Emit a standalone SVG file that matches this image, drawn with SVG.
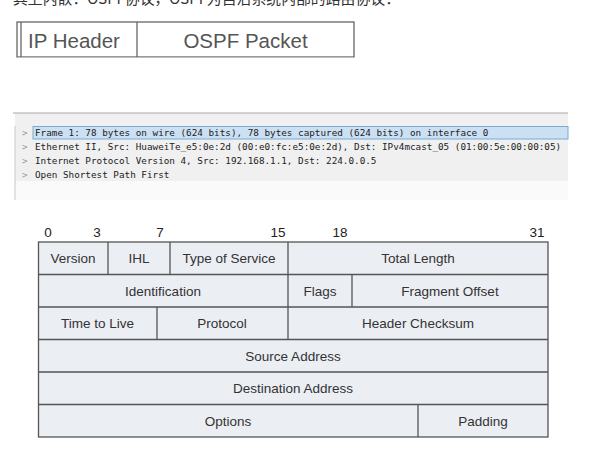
<svg xmlns="http://www.w3.org/2000/svg" width="605" height="457" viewBox="0 0 605 457">
<style>
.cn{font-family:"Noto Sans CJK SC","Liberation Sans",sans-serif;font-size:15px;fill:#333}
.big{font-family:"Liberation Sans",Arial,sans-serif;font-size:20.5px;fill:#555}
.mono{font-family:"DejaVu Sans Mono","Liberation Mono",monospace;font-size:9.3px;fill:#222}
.chev{font-family:"DejaVu Sans Mono","Liberation Mono",monospace;font-size:9.3px;fill:#999}
.lbl{font-family:"Liberation Sans",Arial,sans-serif;font-size:13.5px;fill:#333;text-anchor:middle}
.num{font-family:"Liberation Sans",Arial,sans-serif;font-size:13.5px;fill:#222;text-anchor:middle}
.cell{fill:#ebeef3;stroke:#555;stroke-width:1.3}
.div{stroke:#555;stroke-width:1.3}
</style>
<rect width="605" height="457" fill="#ffffff"/>
<text class="cn" x="13" y="4" textLength="387" lengthAdjust="spacingAndGlyphs">其上内嵌：OSPF协议，OSPF为自治系统内部的路由协议：</text>

<g id="packet-box">
  <rect x="17" y="22" width="337" height="35" fill="#ffffff" stroke="#666" stroke-width="1.3"/>
  <line x1="21" y1="22" x2="21" y2="57" stroke="#666" stroke-width="1.3"/>
  <line x1="137" y1="22" x2="137" y2="57" stroke="#666" stroke-width="1.3"/>
  <line x1="17" y1="57.5" x2="354" y2="57.5" stroke="#bbb" stroke-width="1"/>
  <text class="big" x="28" y="48">IP Header</text>
  <text class="big" x="245.5" y="48" text-anchor="middle">OSPF Packet</text>
</g>

<g id="wireshark-panel">
  <rect x="15" y="113" width="553" height="68" fill="#f0f0f0"/>
  <rect x="15" y="181" width="553" height="19" fill="#fafafa"/>
  <line x1="13" y1="113" x2="568" y2="113" stroke="#a8a8a8" stroke-width="1.2"/>
  <line x1="15" y1="126" x2="15" y2="200" stroke="#c8c8c8" stroke-width="1"/>
  <rect x="33" y="126.5" width="535" height="12.5" fill="#cce0f3" stroke="#7aa9d6" stroke-width="1"/>
  <text class="chev" x="22" y="135.5">&gt;</text>
  <text class="chev" x="22" y="149.5">&gt;</text>
  <text class="chev" x="22" y="163.5">&gt;</text>
  <text class="chev" x="22" y="177.5">&gt;</text>
  <text class="mono" x="35" y="135.5">Frame 1: 78 bytes on wire (624 bits), 78 bytes captured (624 bits) on interface 0</text>
  <text class="mono" x="35" y="149.5">Ethernet II, Src: HuaweiTe_e5:0e:2d (00:e0:fc:e5:0e:2d), Dst: IPv4mcast_05 (01:00:5e:00:00:05)</text>
  <text class="mono" x="35" y="163.5">Internet Protocol Version 4, Src: 192.168.1.1, Dst: 224.0.0.5</text>
  <text class="mono" x="35" y="177.5">Open Shortest Path First</text>
</g>

<g id="bit-numbers">
  <text class="num" x="48" y="237">0</text>
  <text class="num" x="97" y="237">3</text>
  <text class="num" x="160" y="237">7</text>
  <text class="num" x="278" y="237">15</text>
  <text class="num" x="340" y="237">18</text>
  <text class="num" x="537" y="237">31</text>
</g>

<g id="ip-header-table">
  <rect class="cell" x="38.5" y="242" width="509.5" height="195"/>
  <g class="div">
    <line x1="38.5" y1="274.5" x2="548" y2="274.5"/>
    <line x1="38.5" y1="307" x2="548" y2="307"/>
    <line x1="38.5" y1="339.5" x2="548" y2="339.5"/>
    <line x1="38.5" y1="372" x2="548" y2="372"/>
    <line x1="38.5" y1="404.5" x2="548" y2="404.5"/>
    <line x1="108" y1="242" x2="108" y2="274.5"/>
    <line x1="170" y1="242" x2="170" y2="274.5"/>
    <line x1="288" y1="242" x2="288" y2="339.5"/>
    <line x1="352" y1="274.5" x2="352" y2="307"/>
    <line x1="157" y1="307" x2="157" y2="339.5"/>
    <line x1="418" y1="404.5" x2="418" y2="437"/>
  </g>
</g>

<g id="field-version"><text class="lbl" x="73" y="263">Version</text></g>
<g id="field-ihl"><text class="lbl" x="139" y="263">IHL</text></g>
<g id="field-tos"><text class="lbl" x="229" y="263">Type of Service</text></g>
<g id="field-total-length"><text class="lbl" x="418" y="263">Total Length</text></g>
<g id="field-identification"><text class="lbl" x="163" y="295.5">Identification</text></g>
<g id="field-flags"><text class="lbl" x="320" y="295.5">Flags</text></g>
<g id="field-fragment-offset"><text class="lbl" x="450" y="295.5">Fragment Offset</text></g>
<g id="field-ttl"><text class="lbl" x="97.5" y="328">Time to Live</text></g>
<g id="field-protocol"><text class="lbl" x="222" y="328">Protocol</text></g>
<g id="field-checksum"><text class="lbl" x="418" y="328">Header Checksum</text></g>
<g id="field-source"><text class="lbl" x="293" y="360.5">Source Address</text></g>
<g id="field-destination"><text class="lbl" x="293" y="393">Destination Address</text></g>
<g id="field-options"><text class="lbl" x="228" y="425.5">Options</text></g>
<g id="field-padding"><text class="lbl" x="483" y="425.5">Padding</text></g>

<g id="connectors"></g>
</svg>
